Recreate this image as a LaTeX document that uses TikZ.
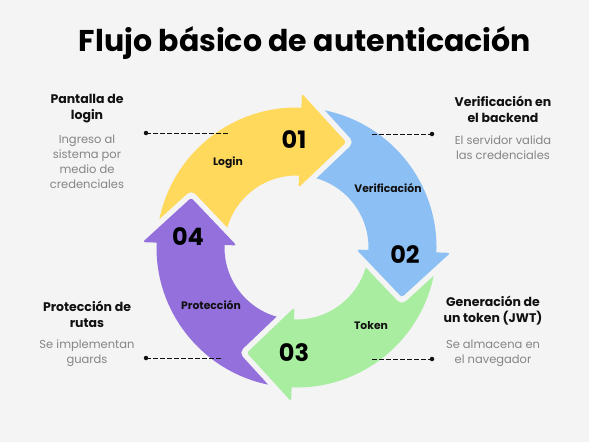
\documentclass[tikz,border=0pt]{standalone}
\usepackage{fontspec}
\setmainfont{Poppins}
\usetikzlibrary{calc}
\definecolor{bg}{HTML}{F4F4F4}
\definecolor{cyel}{HTML}{FFD95C}
\definecolor{cblu}{HTML}{8CC0F5}
\definecolor{cgrn}{HTML}{A8EDA0}
\definecolor{cpur}{HTML}{9370DC}
\definecolor{cgray}{HTML}{858585}
\definecolor{cdark}{HTML}{111111}
\newcommand\bandsector[3]{%
  \fill[#1] ({#2-1}:140) arc[start angle={#2-1}, end angle={#3-1}, radius=140]
    -- ({#3-1}:72) arc[start angle={#3-1}, end angle={#2-1}, radius=72] -- cycle;}
\newcommand\headtri[2]{%
  \coordinate (tip#2) at ($(#2:107)+({#2-90}:46)$);
  \draw[bg, line width=11pt, line join=round] (#2:154) -- (tip#2) -- (#2:60);
  \fill[#1, rounded corners=2.5pt] (#2:154) -- (tip#2) -- (#2:60) -- cycle;}
\tikzset{
  ttl/.style={font=\fontsize{30}{34}\selectfont\bfseries, text=black},
  head/.style={font=\fontsize{12.5}{16}\selectfont\bfseries, text=cdark, align=center},
  desc/.style={font=\fontsize{11.5}{15}\selectfont, text=cgray, align=center},
  seg/.style={font=\fontsize{10.8}{13}\selectfont\bfseries, text=cdark},
  num/.style={font=\fontsize{24}{28}\selectfont\bfseries, text=black},
  lead/.style={draw=cdark, line width=0.9pt, dash pattern=on 5pt off 2pt},
  dotm/.style={circle, fill=cdark, inner sep=0pt, minimum size=4.5pt}
}
\begin{document}
\begin{tikzpicture}[x=1pt,y=-1pt]
\fill[bg] (0,0) rectangle (589,442);
\useasboundingbox (0,0) rectangle (589,442);
\begin{scope}[shift={(296.5,247.5)}, yscale=-1, rotate=2]
  \bandsector{cyel}{180}{90}
  \bandsector{cblu}{90}{0}
  \bandsector{cgrn}{0}{-90}
  \bandsector{cpur}{-90}{-180}
  \headtri{cyel}{90}
  \headtri{cblu}{0}
  \headtri{cgrn}{-90}
  \headtri{cpur}{180}
\end{scope}
\node[ttl] (title) at (305,43) {Flujo básico de autenticación};
% ring labels
\node[seg] (lLogin) at (228,163) {Login};
\node[num] (n01) at (294,140) {01};
\node[seg] (lVer) at (388,188) {Verificación};
\node[num] (n02) at (405,255) {02};
\node[seg] (lTok) at (371,326) {Token};
\node[num] (n03) at (294,353) {03};
\node[seg] (lPro) at (211,305) {Protección};
\node[num] (n04) at (188,237) {04};
% side texts
\node[head] (h1) at (87,109) {Pantalla de\\login};
\node[desc] (d1) at (87,162) {Ingreso al\\sistema por\\medio de\\credenciales};
\node[head] (h2) at (503,109) {Verificación en\\el backend};
\node[desc] (d2) at (503,147.5) {El servidor valida\\las credenciales};
\node[head] (h4) at (87,314) {Protección de\\rutas};
\node[desc] (d4) at (87,353.5) {Se implementan\\guards};
\node[head] (h3) at (493,311) {Generación de\\un token (JWT)};
\node[desc] (d3) at (493,353) {Se almacena en\\el navegador};
% leader lines
\node[dotm] (p1) at (146,133) {};
\coordinate (q1) at (228,133);
\draw[lead] (p1.center) -- (q1);
\node[dotm] (p2) at (432,134) {};
\coordinate (q2) at (372,134);
\draw[lead] (q2) -- (p2.center);
\node[dotm] (p4) at (146,358) {};
\coordinate (q4) at (223,358);
\draw[lead] (p4.center) -- (q4);
\node[dotm] (p3) at (432,359) {};
\coordinate (q3) at (372,359);
\draw[lead] (q3) -- (p3.center);
\end{tikzpicture}
\end{document}
